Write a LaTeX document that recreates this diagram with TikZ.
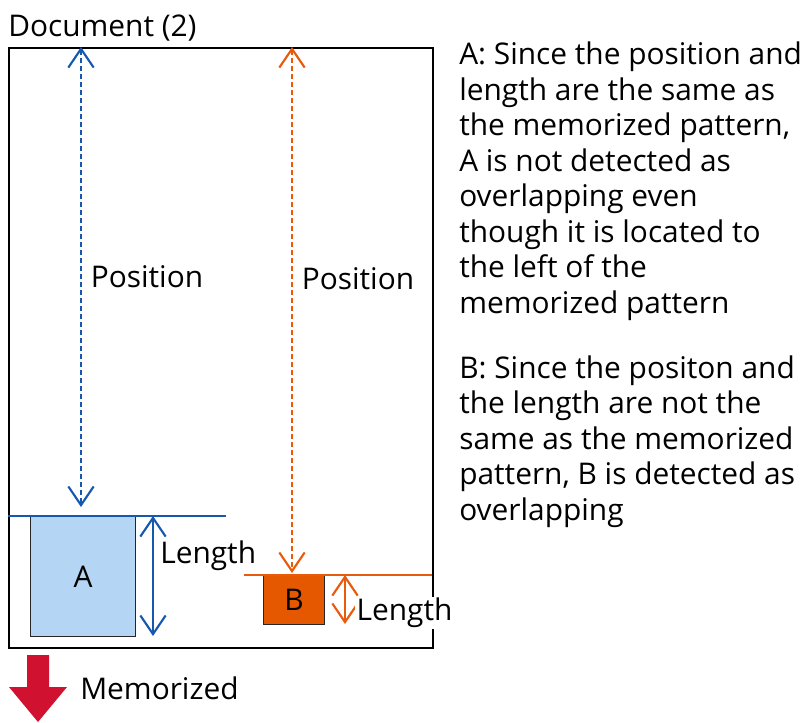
\documentclass[tikz,border=0pt]{standalone}
\usepackage{fontspec}
\setmainfont{Open Sans}
\usetikzlibrary{arrows.meta, positioning}
\definecolor{mblue}{RGB}{22,88,176}
\definecolor{morange}{RGB}{232,90,12}
\definecolor{afill}{RGB}{180,213,243}
\definecolor{bfill}{RGB}{230,88,0}
\definecolor{mred}{RGB}{208,17,47}

\begin{document}
\begin{tikzpicture}[
  x=0.75pt, y=-0.75pt,
  font=\fontsize{22.4}{26.6}\selectfont,
  >={Straight Barb[length=14pt, width=19pt, line width=1.6pt]},
  box/.style={rectangle, draw=black!85, line width=1pt, inner sep=0pt},
  posarrow/.style={<->, line width=1.8pt, dash pattern=on 3.4pt off 2.6pt},
  lenarrow/.style={<->, line width=1.7pt},
  refline/.style={line width=1.5pt},
  lab/.style={inner sep=0pt, anchor=west},
  desc/.style={inner sep=0pt, anchor=north west, align=left},
]
\useasboundingbox (0,0) rectangle (803,722);

% ---- document frame and title
\node[box, draw=black, line width=1.5pt, minimum width=318pt, minimum height=450pt, anchor=north west] (doc) at (8,47) {};
\node[inner sep=0pt, anchor=base west] (title) at (8,36) {Document (2)};

% ---- the two patterns
\node[box, fill=afill, minimum width=78.75pt, minimum height=90pt, anchor=north west] (A) at (30,516) {A};
\node[box, fill=bfill, minimum width=45.75pt, minimum height=36.75pt, anchor=north west] (B) at (263,575) {B};

% ---- reference lines
\coordinate (al) at (8,516);
\coordinate (ar) at (226,516);
\coordinate (bl) at (244,575);
\coordinate (br) at (432,575);
\draw[refline, mblue] (al) -- (ar);
\draw[refline, morange] (bl) -- (br);

% ---- position arrows
\coordinate (pa1) at (81,47);
\coordinate (pa2) at (81,507);
\coordinate (pb1) at (292,47);
\coordinate (pb2) at (292,573);
\draw[posarrow, mblue] (pa1) -- node[lab, pos=0.5, xshift=6.5pt, text=black] (posa) {Position} (pa2);
\draw[posarrow, morange] (pb1) -- node[lab, pos=0.44, xshift=6.5pt, text=black] (posb) {Position} (pb2);

% ---- length arrows
\coordinate (la1) at (153,516);
\coordinate (la2) at (153,636);
\coordinate (lb1) at (345,575);
\coordinate (lb2) at (345,624);
\draw[lenarrow, mblue] (la1) -- (la2);
\draw[lenarrow, morange] (lb1) -- (lb2);
\node[lab] (lena) at (160,556) {Length};
\node[lab, fill=white, inner sep=1pt] (lenb) at (355,613) {Length};

% ---- memorized marker (block arrow)
\fill[mred] (27,655) -- (49,655) -- (49,687) -- (67,687) -- (38,722) -- (9,687) -- (27,687) -- cycle;
\node[lab] (memtxt) at (80,688) {Memorized};

% ---- explanations
\node[desc] (desca) at (459,42) {A: Since the position and\\length are the same as\\the memorized pattern,\\A is not detected as\\overlapping even\\though it is located to\\the left of the\\memorized pattern};
\node[desc, below=26pt of desca.south west, anchor=north west] (descb) {B: Since the positon and\\the length are not the\\same as the memorized\\pattern, B is detected as\\overlapping};

\end{tikzpicture}
\end{document}
